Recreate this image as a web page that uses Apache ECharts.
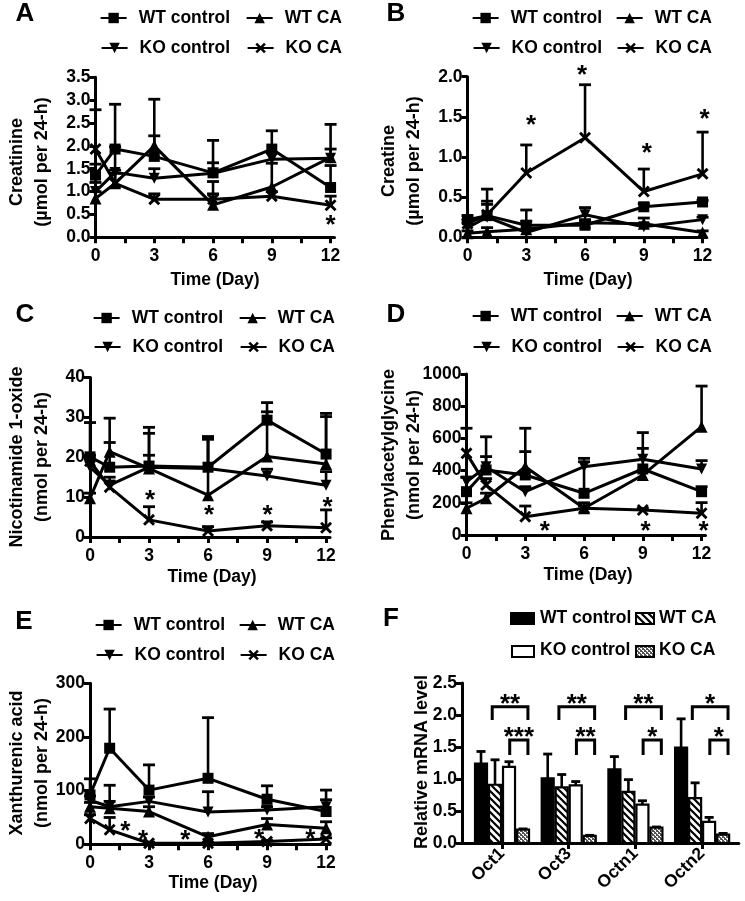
<!DOCTYPE html>
<html><head><meta charset="utf-8">
<script src="https://cdn.jsdelivr.net/npm/echarts@6/dist/echarts.min.js"></script>
<style>html,body{margin:0;padding:0;background:#fff}#c{width:745px;height:901px}</style>
</head><body><div id="c"></div>
<script>
const FONT = '"Liberation Sans", Arial, Helvetica, sans-serif';

// ---------- shared ----------
const days = [0, 1, 3, 6, 9, 12];
const dayTicks = [0, 1.5, 3, 4.5, 6, 7.5, 9, 10.5, 12];
const dayTickLabels = [0, 3, 6, 9, 12];
const groupNames = ['WT control', 'WT CA', 'KO control', 'KO CA'];

// ---------- A: Creatinine ----------  (rows follow groupNames)
const creatinineTicks = [0, 0.5, 1, 1.5, 2, 2.5, 3, 3.5];
const creatinineMean = [
  [1.36, 1.93, 1.77, 1.41, 1.93, 1.09],
  [0.85, 1.18, 2.00, 0.71, 1.10, 1.75],
  [1.00, 1.42, 1.29, 1.40, 1.71, 1.73],
  [1.93, 1.18, 0.83, 0.83, 0.90, 0.70]
];
const creatinineErrTop = [
  [1.60, 2.91, 2.22, 2.12, 2.33, 1.57],
  [1.00, 1.40, 3.02, 1.22, 1.62, 2.47],
  [1.20, 1.47, 1.50, 1.63, 1.85, 1.93],
  [2.79, 1.98, 0.95, 0.95, 1.00, 0.90]
];
const creatinineStars = [[12, 0.38]];

// ---------- B: Creatine ----------
const creatineTicks = [0, 0.5, 1, 1.5, 2];
const creatineMean = [
  [0.22, 0.27, 0.15, 0.15, 0.38, 0.44],
  [0.05, 0.07, 0.10, 0.18, 0.17, 0.06],
  [0.12, 0.25, 0.06, 0.28, 0.13, 0.22],
  [0.17, 0.28, 0.80, 1.24, 0.57, 0.79]
];
const creatineErrTop = [
  [0.27, 0.45, 0.20, 0.20, 0.42, 0.46],
  [0.08, 0.12, 0.34, 0.22, 0.24, 0.08],
  [0.18, 0.41, 0.10, 0.37, 0.17, 0.25],
  [0.22, 0.60, 1.15, 1.90, 0.85, 1.31]
];
const creatineStars = [[3.25, 1.46], [5.85, 2.08], [9.15, 1.12], [12.1, 1.54]];

// ---------- C: Nicotinamide 1-oxide ----------
const nicotinamideTicks = [0, 10, 20, 30, 40];
const nicotinamideMean = [
  [20.1, 17.5, 17.8, 17.5, 29.3, 20.8],
  [9.7, 21.4, 17.2, 10.5, 20.2, 18.3],
  [17.5, 13.0, 17.5, 17.2, 15.3, 13.0],
  [19.0, 12.5, 4.3, 1.5, 2.8, 2.3]
];
const nicotinamideErrTop = [
  [28.7, 23.7, 20.5, 25.2, 33.7, 31.0],
  [11.0, 29.8, 27.5, 25.0, 31.4, 30.2],
  [19.5, 15.0, 26.0, 24.5, 17.0, 16.4],
  [20.5, 14.0, 7.6, 2.6, 3.8, 6.8]
];
const nicotinamideStars = [[3.05, 10.6], [6.05, 6.7], [9.03, 6.8], [12.08, 8.9]];

// ---------- D: Phenylacetylglycine ----------
const phenylTicks = [0, 200, 400, 600, 800, 1000];
const phenylMean = [
  [269, 404, 373, 259, 410, 269],
  [166, 228, 424, 166, 373, 673],
  [330, 424, 269, 424, 470, 410],
  [507, 310, 114, 166, 155, 135]
];
const phenylErrTop = [
  [358, 610, 518, 455, 538, 300],
  [200, 260, 663, 200, 400, 925],
  [360, 487, 300, 476, 636, 462],
  [663, 350, 180, 180, 165, 201]
];
const phenylStars = [[4.0, 55], [9.14, 58], [12.1, 58]];

// ---------- E: Xanthurenic acid ----------
const xanthTicks = [0, 100, 200, 300];
const xanthMean = [
  [92, 179, 101, 123, 84, 61],
  [70, 67, 61, 14, 37, 30],
  [82, 70, 80, 60, 64, 70],
  [48, 27, 2, 2, 5, 10]
];
const xanthErrTop = [
  [122, 252, 148, 236, 109, 101],
  [78, 110, 70, 20, 48, 42],
  [90, 80, 88, 98, 70, 83],
  [55, 50, 4, 4, 7, 12]
];
const xanthStars = [[1.8, 34], [2.7, 17], [4.85, 17], [8.6, 20], [11.2, 20]];

// ---------- F: mRNA ----------
const mrnaCategories = ['Oct1', 'Oct3', 'Octn1', 'Octn2'];
const mrnaTicks = [0, 0.5, 1, 1.5, 2, 2.5];
const mrnaMean = [
  [1.24, 1.01, 1.15, 1.49],
  [0.91, 0.87, 0.80, 0.70],
  [1.19, 0.90, 0.60, 0.33],
  [0.21, 0.11, 0.24, 0.13]
];
const mrnaErrTop = [
  [1.43, 1.39, 1.35, 1.94],
  [1.30, 1.07, 0.99, 0.94],
  [1.27, 0.96, 0.66, 0.40],
  [0.22, 0.12, 0.25, 0.15]
];
// [category, left end, right end (bar slots from category centre), top y, leg y, asterisks, asterisk y]
const mrnaBrackets = [
  [0, -0.7, 1.85, 2.13, 1.92, 2, 2.25], [0, 0.55, 1.85, 1.61, 1.375, 3, 1.74],
  [1, -0.7, 1.85, 2.13, 1.92, 2, 2.25], [1, 0.55, 1.85, 1.61, 1.375, 2, 1.74],
  [2, -0.7, 1.85, 2.13, 1.92, 2, 2.25], [2, 0.55, 1.85, 1.61, 1.375, 1, 1.74],
  [3, -0.7, 1.85, 2.13, 1.92, 1, 2.25], [3, 0.55, 1.85, 1.61, 1.375, 1, 1.74]
];

// ---------- styling helpers ----------
const BAR_W = 0.21;
const symbols = ['rect', 'triangle', 'path://M0,0L10,0L5,10Z',
  'path://M0,1.7L1.7,0L5,3.3L8.3,0L10,1.7L6.7,5L10,8.3L8.3,10L5,6.7L1.7,10L0,8.3L3.3,5Z'];
const symbolSizes = [11, 12, 11, 12];

function hatchPattern() {
  const c = document.createElement('canvas'); c.width = 7; c.height = 7;
  const g = c.getContext('2d'); g.fillStyle = '#fff'; g.fillRect(0, 0, 7, 7);
  g.strokeStyle = '#000'; g.lineWidth = 2.2; g.beginPath();
  g.moveTo(-2, -2); g.lineTo(9, 9); g.moveTo(-2, 5); g.lineTo(2, 9); g.moveTo(5, -2); g.lineTo(9, 2); g.stroke();
  return {image: c, repeat: 'repeat'};
}
function dotPattern() {
  const c = document.createElement('canvas'); c.width = 4; c.height = 4;
  const g = c.getContext('2d'); g.fillStyle = '#555'; g.fillRect(0, 0, 4, 4);
  g.fillStyle = '#fff'; g.fillRect(0, 0, 2, 1); g.fillRect(2, 2, 2, 1); g.fillRect(1, 1, 1, 1); g.fillRect(3, 3, 1, 1);
  return {image: c, repeat: 'repeat'};
}
const barFills = ['#000', hatchPattern(), '#fff', dotPattern()];

const linePanels = [
  {letter: 'A', grid: {left: 95.5, top: 77.3, width: 239, height: 160}, ticks: creatinineTicks, dec: 1,
   mean: creatinineMean, err: creatinineErrTop, stars: creatinineStars, yTitle: 'Creatinine\n(µmol per 24-h)',
   yTitlePos: [29.5, 162], xTitlePos: [215, 280], letterPos: [25, 14], legendRows: [18, 48], legendRights: [230, 342]},
  {letter: 'B', grid: {left: 467.5, top: 76.7, width: 239, height: 160.6}, ticks: creatineTicks, dec: 1,
   mean: creatineMean, err: creatineErrTop, stars: creatineStars, yTitle: 'Creatine\n(µmol per 24-h)',
   yTitlePos: [401.5, 161], xTitlePos: [588, 280], letterPos: [396, 14], legendRows: [18, 48], legendRights: [602, 712]},
  {letter: 'C', grid: {left: 90, top: 377.5, width: 240, height: 159.5}, ticks: nicotinamideTicks, dec: 0,
   mean: nicotinamideMean, err: nicotinamideErrTop, stars: nicotinamideStars, yTitle: 'Nicotinamide 1-oxide\n(nmol per 24-h)',
   yTitlePos: [30, 457], xTitlePos: [212, 577], letterPos: [25, 315], legendRows: [318, 347], legendRights: [223, 335]},
  {letter: 'D', grid: {left: 466.5, top: 374, width: 239, height: 161}, ticks: phenylTicks, dec: 0,
   mean: phenylMean, err: phenylErrTop, stars: phenylStars, yTitle: 'Phenylacetylglycine\n(nmol per 24-h)',
   yTitlePos: [401.5, 455], xTitlePos: [588, 575], letterPos: [396, 315], legendRows: [316, 347], legendRights: [602, 712]},
  {letter: 'E', grid: {left: 90, top: 683.3, width: 240, height: 161}, ticks: xanthTicks, dec: 0,
   mean: xanthMean, err: xanthErrTop, stars: xanthStars, yTitle: 'Xanthurenic acid\n(nmol per 24-h)',
   yTitlePos: [29.5, 763], xTitlePos: [213, 883], letterPos: [24, 622], legendRows: [625, 655], legendRights: [225, 335]}
];

const txt = {fontFamily: FONT, fontWeight: 'bold', color: '#000'};
const axisLineStyle = {color: '#000', width: 3};

const grids = [], xAxes = [], yAxes = [], series = [], legends = [], graphics = [];

function errRender(params, api) {
  const x = api.value(0), m = api.value(1), t = api.value(2);
  const p0 = api.coord([x, m]), p1 = api.coord([x, t]);
  const hw = 6;
  return {type: 'group', children: [
    {type: 'line', shape: {x1: p0[0], y1: p0[1], x2: p1[0], y2: p1[1]}, style: {stroke: '#000', lineWidth: 2.6}},
    {type: 'line', shape: {x1: p1[0] - hw, y1: p1[1], x2: p1[0] + hw, y2: p1[1]}, style: {stroke: '#000', lineWidth: 2.8}}
  ]};
}
function starRender(params, api) {
  const p = api.coord([api.value(0), api.value(1)]);
  return {type: 'text', x: p[0], y: p[1] + 6, style: {text: '*', fontSize: 26, fontWeight: 'bold', fontFamily: FONT,
    fill: '#000', align: 'center', verticalAlign: 'middle'}};
}

linePanels.forEach((p, i) => {
  grids.push(Object.assign({containLabel: false}, p.grid));
  const t = p.ticks;
  xAxes.push({gridIndex: i, type: 'value', min: 0, max: 12.2,
    axisLine: {onZero: false, lineStyle: axisLineStyle},
    axisTick: {show: true, length: 6, lineStyle: {color: '#000', width: 3}, customValues: dayTicks},
    axisLabel: Object.assign({customValues: dayTickLabels, margin: 10, fontSize: 17.5}, txt),
    splitLine: {show: false}});
  yAxes.push({gridIndex: i, type: 'value', min: t[0], max: t[t.length - 1], interval: t[1] - t[0],
    axisLine: {show: true, onZero: false, lineStyle: axisLineStyle},
    axisTick: {show: true, length: 6, lineStyle: {color: '#000', width: 3}},
    axisLabel: Object.assign({margin: 5, fontSize: 17.5, formatter: v => v.toFixed(p.dec)}, txt),
    splitLine: {show: false}});
  const errData = [];
  groupNames.forEach((name, k) => {
    series.push({type: 'line', name: name, xAxisIndex: i, yAxisIndex: i,
      data: days.map((d, j) => [d, p.mean[k][j]]),
      symbol: symbols[k], symbolSize: symbolSizes[k], showAllSymbol: true,
      lineStyle: {color: '#000', width: 3}, itemStyle: {color: '#000'},
      z: 3, animation: false, silent: true});
    days.forEach((d, j) => errData.push([d, p.mean[k][j], p.err[k][j]]));
  });
  series.push({type: 'custom', xAxisIndex: i, yAxisIndex: i, renderItem: errRender, data: errData,
    clip: false, z: 2, animation: false, silent: true});
  series.push({type: 'custom', xAxisIndex: i, yAxisIndex: i, renderItem: starRender, data: p.stars,
    clip: false, z: 4, animation: false, silent: true});
  groupNames.forEach((name, k) => {
    const row = k >> 1, col = k & 1;
    legends.push({data: [name], right: 745 - p.legendRights[col], top: p.legendRows[row] - 10,
      padding: 0, itemWidth: 26, itemHeight: 13, selectedMode: false,
      textStyle: Object.assign({fontSize: 17.5, lineHeight: 20, padding: [0, 0, 0, 7]}, txt)});
  });
  graphics.push({type: 'text', x: p.yTitlePos[0], y: p.yTitlePos[1], rotation: Math.PI / 2,
    style: {text: p.yTitle, fontSize: 18, fontWeight: 'bold', fontFamily: FONT, fill: '#000',
      align: 'center', verticalAlign: 'middle', lineHeight: 25}});
  graphics.push({type: 'text', x: p.xTitlePos[0], y: p.xTitlePos[1],
    style: {text: 'Time (Day)', fontSize: 17.5, fontWeight: 'bold', fontFamily: FONT, fill: '#000',
      align: 'center', verticalAlign: 'middle'}});
  graphics.push({type: 'text', x: p.letterPos[0], y: p.letterPos[1],
    style: {text: p.letter, fontSize: 26, fontWeight: 'bold', fontFamily: FONT, fill: '#000',
      align: 'center', verticalAlign: 'middle'}});
});

// ---------- panel F ----------
const fi = linePanels.length;
grids.push({left: 462, top: 683, width: 276.8, height: 160, containLabel: false});
xAxes.push({gridIndex: fi, type: 'value', min: -0.6, max: 3.55,
  axisLine: {onZero: false, lineStyle: axisLineStyle},
  axisTick: {show: true, length: 6, lineStyle: {color: '#000', width: 3}, customValues: [0, 1, 2, 3]},
  axisLabel: Object.assign({customValues: [0, 1, 2, 3], rotate: 45, margin: 8, fontSize: 17.5,
    formatter: v => mrnaCategories[Math.round(v)]}, txt),
  splitLine: {show: false}});
yAxes.push({gridIndex: fi, type: 'value', min: mrnaTicks[0], max: mrnaTicks[mrnaTicks.length - 1],
  interval: mrnaTicks[1] - mrnaTicks[0],
  axisLine: {show: true, onZero: false, lineStyle: axisLineStyle},
  axisTick: {show: true, length: 6, lineStyle: {color: '#000', width: 3}},
  axisLabel: Object.assign({margin: 5, fontSize: 17.5, formatter: v => v.toFixed(1)}, txt),
  splitLine: {show: false}});

function barRenderFor(fill) {
  return function (params, api) {
    const g = api.value(0), slot = api.value(1), v = api.value(2), e = api.value(3);
    const x0 = g + (slot - 2) * BAR_W;
    const pa = api.coord([x0, 0]), pb = api.coord([x0 + BAR_W, v]);
    const pm = api.coord([x0 + BAR_W / 2, v]), pe = api.coord([x0 + BAR_W / 2, e]);
    return {type: 'group', children: [
      {type: 'line', shape: {x1: pm[0], y1: pm[1], x2: pe[0], y2: pe[1]}, style: {stroke: '#000', lineWidth: 2.6}},
      {type: 'line', shape: {x1: pe[0] - 4.5, y1: pe[1], x2: pe[0] + 4.5, y2: pe[1]}, style: {stroke: '#000', lineWidth: 2.8}},
      {type: 'rect', shape: {x: pa[0] + 1, y: pb[1], width: pb[0] - pa[0] - 2, height: pa[1] - pb[1]},
        style: {fill: fill, stroke: '#000', lineWidth: 2.2}}
    ]};
  };
}
mrnaMean.forEach((row, s) => {
  series.push({type: 'custom', name: 'mRNA ' + groupNames[s], xAxisIndex: fi, yAxisIndex: fi,
    renderItem: barRenderFor(barFills[s]),
    data: row.map((v, g) => [g, s, v, mrnaErrTop[s][g]]), clip: false, animation: false, silent: true});
});
series.push({type: 'custom', xAxisIndex: fi, yAxisIndex: fi, clip: false, animation: false, silent: true,
  data: mrnaBrackets,
  renderItem: function (params, api) {
    const g = api.value(0), l = api.value(1), r = api.value(2), yt = api.value(3), yl = api.value(4);
    const n = api.value(5), ys = api.value(6);
    const pl = api.coord([g + l * BAR_W, yt]), pr = api.coord([g + r * BAR_W, yt]);
    const pll = api.coord([g + l * BAR_W, yl]);
    const ps = api.coord([g + (l + r) / 2 * BAR_W, ys]);
    return {type: 'group', children: [
      {type: 'polyline', shape: {points: [[pl[0], pll[1]], [pl[0], pl[1]], [pr[0], pr[1]], [pr[0], pll[1]]]},
        style: {stroke: '#000', lineWidth: 3, fill: null}},
      {type: 'text', x: ps[0], y: ps[1] + 6, style: {text: '*'.repeat(n), fontSize: 26, fontWeight: 'bold',
        fontFamily: FONT, fill: '#000', align: 'center', verticalAlign: 'middle'}}
    ]};
  }});

graphics.push({type: 'text', x: 422, y: 762, rotation: Math.PI / 2,
  style: {text: 'Relative mRNA level', fontSize: 18, fontWeight: 'bold', fontFamily: FONT, fill: '#000',
    align: 'center', verticalAlign: 'middle'}});
graphics.push({type: 'text', x: 391, y: 619,
  style: {text: 'F', fontSize: 26, fontWeight: 'bold', fontFamily: FONT, fill: '#000', align: 'center', verticalAlign: 'middle'}});
// F legend: [box x, box y, box width, text x, text y]
const fLegendPos = [[510, 612, 25, 540, 618], [635, 612, 20, 659, 618], [511, 645, 24, 540, 650], [635, 645, 20, 659, 650]];
groupNames.forEach((name, k) => {
  const q = fLegendPos[k];
  graphics.push({type: 'rect', shape: {x: q[0] + 1, y: q[1] + 1, width: q[2] - 2, height: 11},
    style: {fill: barFills[k], stroke: '#000', lineWidth: 2}});
  graphics.push({type: 'text', x: q[3], y: q[4],
    style: {text: name, fontSize: 17.5, fontWeight: 'bold', fontFamily: FONT, fill: '#000', align: 'left', verticalAlign: 'middle'}});
});

const chart = echarts.init(document.getElementById('c'), null, {renderer: 'canvas', width: 745, height: 901});
chart.setOption({
  animation: false,
  backgroundColor: '#fff',
  grid: grids, xAxis: xAxes, yAxis: yAxes, series: series, legend: legends, graphic: graphics
});
</script>
</body></html>
